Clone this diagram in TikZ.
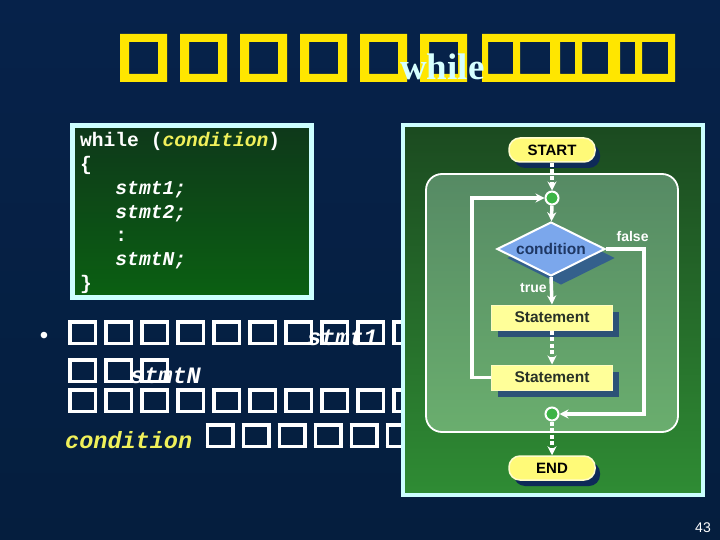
\documentclass[tikz,border=0pt]{standalone}
\usepackage{fontspec}
\setmainfont{Liberation Serif}
\setsansfont{Liberation Sans}
\setmonofont{Liberation Mono}
\usetikzlibrary{shapes.geometric,shadows,arrows.meta}
\definecolor{slidetop}{RGB}{6,34,74}
\definecolor{slidemid}{RGB}{16,60,116}
\definecolor{slidebottom}{RGB}{5,30,62}
\definecolor{titleyellow}{RGB}{255,230,0}
\definecolor{titlecyan}{RGB}{214,255,255}
\definecolor{framecyan}{RGB}{204,255,255}
\definecolor{codetop}{RGB}{14,56,26}
\definecolor{codebottom}{RGB}{11,96,18}
\definecolor{codeyellow}{RGB}{240,240,90}
\definecolor{paneltop}{RGB}{27,74,32}
\definecolor{panelbottom}{RGB}{47,140,52}
\definecolor{looptop}{RGB}{86,138,100}
\definecolor{loopbottom}{RGB}{106,174,110}
\definecolor{pillyellow}{RGB}{255,250,120}
\definecolor{boxyellow}{RGB}{255,255,153}
\definecolor{decisionblue}{RGB}{123,167,236}
\definecolor{decisiontext}{RGB}{30,55,100}
\definecolor{shadowblue}{RGB}{14,42,88}
\definecolor{shadowsteel}{RGB}{52,96,140}
\definecolor{joingreen}{RGB}{60,180,70}
\definecolor{labeltext}{RGB}{40,50,40}
\tikzstyle{tofu}=[fill=titleyellow, even odd rule]
\tikzstyle{titletext}=[text=titlecyan, font=\fontsize{37}{40}\selectfont\rmfamily\bfseries, inner sep=0, anchor=base west]
\tikzstyle{codetext}=[text=white, font=\fontsize{19.6}{23.8}\selectfont\ttfamily\bfseries, inner sep=0, anchor=base west]
\tikzstyle{bodytext}=[text=white, font=\fontsize{23.5}{28}\selectfont\ttfamily\bfseries\itshape, inner sep=0, anchor=base west]
\tikzstyle{pill}=[rectangle, rounded corners=11pt, minimum width=86pt, minimum height=24pt, inner sep=0, fill=pillyellow, draw=white!80!yellow, line width=1.5pt, text=black, font=\fontsize{15}{18}\selectfont\sffamily\bfseries, drop shadow={shadow xshift=5pt, shadow yshift=-6pt, fill=shadowblue, opacity=1}]
\tikzstyle{decision}=[diamond, aspect=2, minimum width=108pt, minimum height=54pt, inner sep=0, fill=decisionblue, draw=white, line width=2pt, text=decisiontext, font=\fontsize{15.5}{18}\selectfont\sffamily\bfseries, drop shadow={shadow xshift=10pt, shadow yshift=-9pt, fill=shadowsteel, opacity=1}]
\tikzstyle{process}=[rectangle, minimum width=121pt, minimum height=25pt, inner sep=0, fill=boxyellow, draw=white!75!yellow, line width=1pt, text=labeltext, font=\fontsize{15.5}{18}\selectfont\sffamily\bfseries, drop shadow={shadow xshift=6pt, shadow yshift=-7pt, fill=shadowsteel!85!black, opacity=1}]
\tikzstyle{joint}=[circle, minimum size=13pt, inner sep=0, fill=joingreen, draw=white, line width=2pt]
\tikzstyle{flow}=[draw=white, line width=3.5pt, -{Stealth[length=9pt,width=9pt]}]
\tikzstyle{flowdash}=[dash pattern=on 4pt off 2.5pt]
\tikzstyle{lbl}=[text=white, font=\fontsize{14}{16}\selectfont\sffamily\bfseries, inner sep=0]
\newcommand{\wbox}{\kern3.5pt\vbox{\hrule height3.5pt\hbox{\vrule width3.5pt height18pt depth0pt\kern22pt\vrule width3.5pt height18pt depth0pt}\hrule height3.5pt}\kern3.5pt}

\begin{document}
\begin{tikzpicture}[x=1pt, y=-1pt]
    \shade[top color=slidetop, middle color=slidemid, bottom color=slidebottom] (0,0) rectangle (720,540);
    \useasboundingbox (0,0) rectangle (720,540);

    \foreach \i in {0,...,5}
        \fill[tofu] (120+60*\i,34) rectangle +(47,48) (129+60*\i,42) rectangle +(29,32);
    \fill[tofu] (482,34) rectangle (675,82)
        (488,42) rectangle (513,74) (520,42) rectangle (550,74)
        (560,42) rectangle (575,74) (582,42) rectangle (608,74)
        (620,42) rectangle (635,74) (642,42) rectangle (668,74);
    \node[titletext] (title) at (400,80) {while};

    \shade[draw=framecyan, line width=5pt, top color=codetop, bottom color=codebottom] (72.5,125.5) rectangle (311.5,297.5);
    \node[codetext] (code) at (80,146.7) {\begin{tabular}[t]{@{}l@{}}
        while ({\itshape\color{codeyellow}condition})\\
        \{\\
        \hphantom{xxx}{\itshape stmt1;}\\
        \hphantom{xxx}{\itshape stmt2;}\\
        \hphantom{xxx}:\\
        \hphantom{xxx}{\itshape stmtN;}\\
        \}
    \end{tabular}};

    \node[text=white, font=\fontsize{24}{26}\selectfont\sffamily, inner sep=0] (bullet) at (44,338) {•};
    \node[bodytext] (line1) at (64.5,345) {\wbox\wbox\wbox\wbox\wbox\wbox\wbox\rlap{\kern-9.5pt stmt1}\wbox\wbox\wbox};
    \node[bodytext] (line2) at (64.5,383) {\wbox\wbox\rlap{\kern-6.5pt stmtN}\wbox};
    \node[bodytext] (line3) at (64.5,413) {\wbox\wbox\wbox\wbox\wbox\wbox\wbox\wbox\wbox\wbox};
    \node[bodytext] (line4) at (65,448) {{\color{codeyellow}condition}\kern10pt\wbox\wbox\wbox\wbox\wbox\wbox};

    \shade[draw=framecyan, line width=4pt, top color=paneltop, bottom color=panelbottom] (403,125) rectangle (703,495);
    \shade[draw=white, line width=1.8pt, rounded corners=16pt, top color=looptop, bottom color=loopbottom] (426,174) rectangle (678,432);

    \node[pill] (start) at (552,150) {START};
    \node[joint] (join1) at (552,198) {};
    \node[decision] (cond) at (551,249) {condition};
    \node[process] (stmt1) at (552,317.5) {Statement};
    \node[process] (stmt2) at (552,377.5) {Statement};
    \node[joint] (join2) at (552,414) {};
    \node[pill] (stop) at (552,468) {END};

    \draw[flow, flowdash] (start) -- (join1);
    \draw[flow] (join1) -- (cond);
    \draw[flow] (cond.east) -- ++(38,0)
        node[lbl, pos=0.7, above=6pt]{false}
        |- (join2.east);
    \draw[flow] (cond.south) -- (stmt1.north)
        node[lbl, pos=0.4, left=3pt]{true};
    \draw[flow, flowdash] (stmt1) -- (stmt2);
    \draw[flow] (stmt2.west) -- ++(-19,0) |- (join1.west);
    \draw[flow, flowdash] (join2) -- (stop);

    \node[text=white, font=\fontsize{14}{16}\selectfont\sffamily, inner sep=0] (pagenum) at (703,528) {43};
\end{tikzpicture}
\end{document}
